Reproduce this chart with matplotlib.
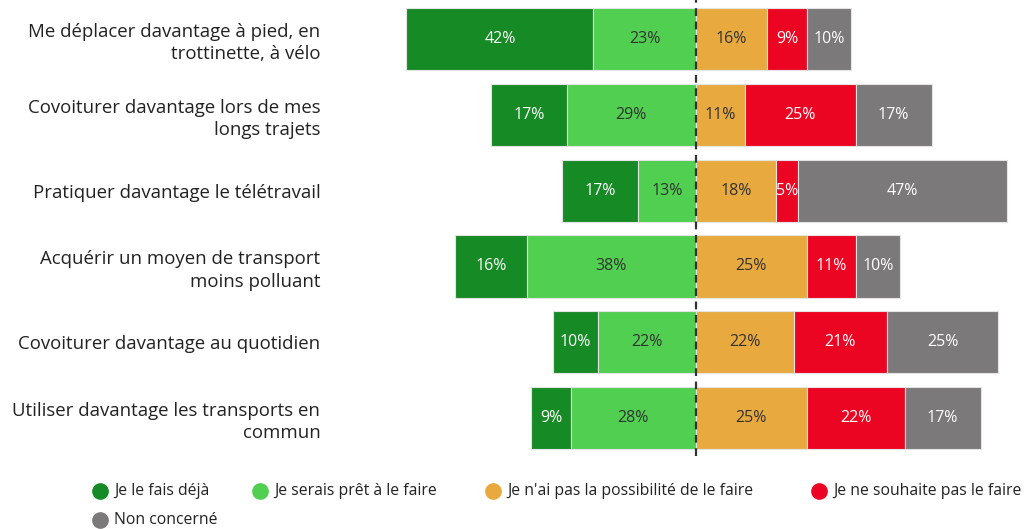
import matplotlib
matplotlib.use("Agg")
import matplotlib.pyplot as plt
from matplotlib.lines import Line2D
import numpy as np

plt.rcParams['font.family'] = ['Open Sans', 'DejaVu Sans']

categories = [
    "Me déplacer davantage à pied, en\ntrottinette, à vélo",
    "Covoiturer davantage lors de mes\nlongs trajets",
    "Pratiquer davantage le télétravail",
    "Acquérir un moyen de transport\nmoins polluant",
    "Covoiturer davantage au quotidien",
    "Utiliser davantage les transports en\ncommun",
]
series_names = [
    "Je le fais déjà",
    "Je serais prêt à le faire",
    "Je n'ai pas la possibilité de le faire",
    "Je ne souhaite pas le faire",
    "Non concerné",
]
deja = [42, 17, 17, 16, 10, 9]
pret = [23, 29, 13, 38, 22, 28]
pas_possible = [16, 11, 18, 25, 22, 25]
pas_souhaite = [9, 25, 5, 11, 21, 22]
non_concerne = [10, 17, 47, 10, 25, 17]

colors = ["#168a25", "#50cf50", "#e8aa3e", "#ec0522", "#7b797a"]
text_colors = ["white", "#333333", "#333333", "white", "white"]

fig = plt.figure(figsize=(10.33, 5.29), dpi=100)
ax = fig.add_axes([380 / 1033, 1 - 456 / 529, 1 - 380 / 1033, 456 / 529])

y = np.arange(len(categories))
h = 0.82

# negative side: "déjà" on the outside, "prêt" next to the centre
left_vals = [np.array(deja), np.array(pret)]
starts_left = [-(np.array(deja) + np.array(pret)), -np.array(pret)]
right_vals = [np.array(pas_possible), np.array(pas_souhaite), np.array(non_concerne)]
starts_right = [np.zeros(len(y)), np.array(pas_possible),
                np.array(pas_possible) + np.array(pas_souhaite)]

segments = list(zip(left_vals, starts_left)) + list(zip(right_vals, starts_right))
for k, (vals, starts) in enumerate(segments):
    ax.barh(y, vals, left=starts, height=h, color=colors[k],
            edgecolor="#e4e4e4", linewidth=0.8)
    for yi, v, s in zip(y, vals, starts):
        ax.text(s + v / 2, yi, f"{v}%", ha="center", va="center",
                fontsize=11.5, color=text_colors[k])

ax.axvline(0, color="#333333", linewidth=1.6, linestyle=(0, (3.5, 2.5)), zorder=5)

ax.set_xlim((380 - 695.7) / 4.45, (1033 - 695.7) / 4.45)
ax.set_ylim(5.5, -0.514)
ax.set_yticks(y)
ax.set_yticklabels(categories, fontsize=13.4, color="#222222", linespacing=1.3)
ax.tick_params(axis="y", length=0, pad=43)
ax.set_xticks([])
for sp in ax.spines.values():
    sp.set_visible(False)

# legend
leg_x = [100, 260, 493, 819, 100]
leg_y = [491, 491, 491, 491, 520]
for name, c, lx, ly in zip(series_names, colors, leg_x, leg_y):
    fig.add_artist(Line2D([lx / 1033], [1 - ly / 529], marker="o", markersize=11,
                          color=c, linestyle="none", transform=fig.transFigure))
    fig.text((lx + 14) / 1033, 1 - ly / 529, name, ha="left", va="center",
             fontsize=11.3, color="#222222")

fig.savefig("out.png", dpi=100)
